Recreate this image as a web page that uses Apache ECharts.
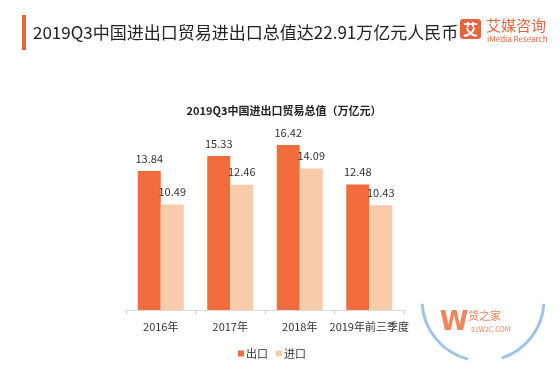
<!DOCTYPE html>
<html>
<head>
<meta charset="utf-8">
<script src="https://cdn.jsdelivr.net/npm/echarts@6/dist/echarts.min.js"></script>
<style>html,body{margin:0;padding:0;background:#fff}#c{width:560px;height:374px}</style>
</head>
<body>
<div id="c"></div>
<script>
const categories = ['2016年', '2017年', '2018年', '2019年前三季度'];
const exportValues = [13.84, 15.33, 16.42, 12.48];
const importValues = [10.49, 12.46, 14.09, 10.43];
const seriesNames = ['出口', '进口'];

const FONT = '"Noto Sans CJK SC", "Noto Sans", sans-serif';
const chart = echarts.init(document.getElementById('c'), null, {renderer: 'canvas'});

chart.setOption({
  animation: false,
  backgroundColor: '#fff',
  textStyle: {fontFamily: FONT},
  title: {
    text: '2019Q3中国进出口贸易总值（万亿元）',
    left: 279, top: 100, textAlign: 'center',
    textStyle: {fontSize: 11, fontWeight: 'bold', color: '#222', fontFamily: FONT}
  },
  legend: {
    data: seriesNames,
    left: 233, top: 343,
    itemWidth: 6, itemHeight: 6, itemGap: 8,
    icon: 'rect',
    textStyle: {fontSize: 11, color: '#333', fontFamily: FONT, padding: [0,0,0,-3]}
  },
  grid: {left: 126, right: 156, top: 109, bottom: 64},
  xAxis: {
    type: 'category',
    data: categories,
    axisLine: {lineStyle: {color: '#dcdcdc'}},
    axisTick: {show: true, length: 4, lineStyle: {color: '#d0d0d0'}},
    axisLabel: {interval: 0, fontSize: 11, color: '#333', margin: 11, fontFamily: FONT}
  },
  yAxis: {type: 'value', min: 0, max: 20, show: false, splitLine: {show: false}},
  series: [
    {
      name: seriesNames[0], type: 'bar', data: exportValues,
      barWidth: 23, barGap: '0%',
      itemStyle: {color: '#F26B3C'},
      label: {show: true, position: 'top', distance: 7, fontSize: 11, color: '#333', fontFamily: FONT}
    },
    {
      name: seriesNames[1], type: 'bar', data: importValues,
      barWidth: 23,
      itemStyle: {color: '#F8CBAA'},
      label: {show: true, position: 'top', distance: 7, fontSize: 11, color: '#333', fontFamily: FONT}
    }
  ],
  graphic: [
    {type: 'rect', shape: {x: 22, y: 15, width: 4, height: 35}, style: {fill: '#E8643C'}},
    {type: 'text', x: 33, y: 33, style: {text: '2019Q3中国进出口贸易进出口总值达22.91万亿元人民币', fill: '#222', font: '17px ' + FONT, textVerticalAlign: 'middle'}},
    {type: 'rect', shape: {x: 460, y: 19, width: 21, height: 20, r: 3}, style: {fill: '#E8643C'}},
    {type: 'text', x: 470.5, y: 29, style: {text: '艾', font: 'bold 15px ' + FONT, fill: '#fff', textAlign: 'center', textVerticalAlign: 'middle'}},
    {type: 'text', x: 486, y: 25, style: {text: '艾媒咨询', font: '15px ' + FONT, fill: '#E8643C', textVerticalAlign: 'middle'}},
    {type: 'text', x: 487, y: 39, style: {text: 'iMedia Research', font: '8px ' + FONT, fill: '#E8643C', textVerticalAlign: 'middle'}},
    {type: 'text', x: 454, y: 323, style: {text: 'W', font: 'bold 26px "DejaVu Sans", sans-serif', fill: '#F0845A', textAlign: 'center', textVerticalAlign: 'middle'}},
    {type: 'text', x: 468, y: 316, style: {text: '货之家', font: '11px ' + FONT, fill: '#F0845A', textVerticalAlign: 'middle'}},
    {type: 'text', x: 471, y: 329, style: {text: '51W2C.COM', font: '7px ' + FONT, fill: '#F0845A', textVerticalAlign: 'middle'}},
    {type: 'arc', shape: {cx: 483, cy: 300, r: 61, startAngle: Math.PI * 0.58, endAngle: Math.PI * 0.98}, style: {stroke: '#9EC5E6', lineWidth: 3, fill: null}},
    {type: 'arc', shape: {cx: 483, cy: 300, r: 61, startAngle: Math.PI * 0.02, endAngle: Math.PI * 0.40}, style: {stroke: '#9EC5E6', lineWidth: 3, fill: null}}
  ]
});
</script>
</body>
</html>
